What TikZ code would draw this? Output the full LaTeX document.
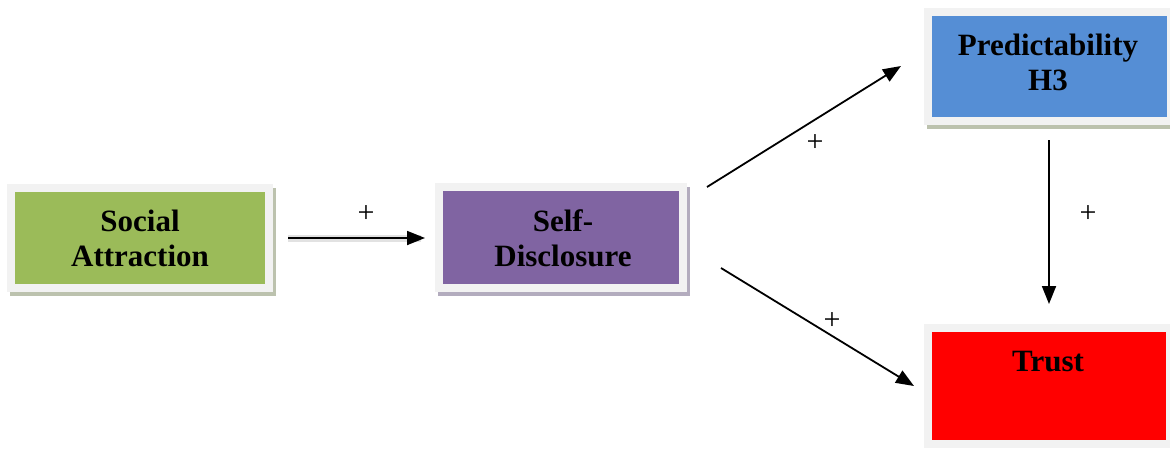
\documentclass[tikz,border=0pt]{standalone}
\usepackage{fontspec}
\setmainfont{Liberation Serif}
\usetikzlibrary{arrows.meta}
\definecolor{outerc}{HTML}{F2F2F2}
\definecolor{sagreen}{HTML}{9BBB59}
\definecolor{sdpurple}{HTML}{8064A2}
\definecolor{prblue}{HTML}{558ED5}
\definecolor{trred}{HTML}{FF0000}
\definecolor{shadg}{HTML}{BCC2AE}
\definecolor{shadp}{HTML}{B3ACBE}
\definecolor{halo}{HTML}{E2E2E2}
\begin{document}
\begin{tikzpicture}[x=1pt,y=-1pt,
  outerbox/.style={fill=outerc,draw=none,inner sep=0pt,anchor=north west},
  innerbox/.style={draw=none,inner sep=0pt},
  lbl/.style={font=\bfseries\fontsize{31}{35}\selectfont,align=center,inner sep=0pt},
  plus/.style={font=\fontsize{30}{30}\selectfont,inner sep=0pt},
  arr/.style={line width=1.8pt,-{Triangle[length=18pt,width=14pt]}}
]
\useasboundingbox (0,0) rectangle (1170,448);
% Social Attraction
\fill[shadg] (10,292) rectangle (276,296);
\fill[shadg] (273,188) rectangle (276,296);
\node[outerbox,minimum width=266pt,minimum height=108pt] (sao) at (7,184) {};
\node[innerbox,fill=sagreen,minimum width=250pt,minimum height=92pt] (sa) at (sao.center) {};
\node[lbl] (sat) at (140,238) {Social\\Attraction};
% Self-Disclosure
\fill[shadp] (438,292) rectangle (690,296);
\fill[shadp] (687,187) rectangle (690,296);
\node[outerbox,minimum width=252pt,minimum height=109pt] (sdo) at (435,183) {};
\node[innerbox,fill=sdpurple,minimum width=236pt,minimum height=93pt] (sd) at (sdo.center) {};
\node[lbl] (sdt) at (563,238) {Self-\\Disclosure};
% Predictability
\fill[shadg] (927,125) rectangle (1170,129);
\node[outerbox,minimum width=246pt,minimum height=117pt] (pro) at (924,8) {};
\node[innerbox,fill=prblue,minimum width=235pt,minimum height=101pt,anchor=north west] (pr) at (932,16) {};
\node[lbl] (prt) at (1048,62) {Predictability\\H3};
% Trust
\node[outerbox,minimum width=246pt,minimum height=124pt] (tro) at (924,324) {};
\node[innerbox,fill=trred,minimum width=234pt,minimum height=108pt,anchor=north west] (tr) at (932,332) {};
\node[lbl,anchor=base] (trt) at (1048,371) {Trust};
% connector end points
\coordinate (a1s) at (288,238);
\coordinate (a1e) at (425,238);
\coordinate (a2s) at (707,187);
\coordinate (a2e) at (901,66);
\coordinate (a3s) at (721,268);
\coordinate (a3e) at (914,386);
\coordinate (a4s) at (1049,140);
\coordinate (a4e) at (1049,304);
% arrows
\draw[halo,line width=7pt] (a1s) -- ([xshift=-4pt]a1e);
\draw[arr] (a1s) -- (a1e);
\draw[arr] (a2s) -- (a2e);
\draw[arr] (a3s) -- (a3e);
\draw[arr] (a4s) -- (a4e);
% plus labels
\node[plus] (p1) at (366,214) {+};
\node[plus] (p2) at (815,143) {+};
\node[plus] (p3) at (832,321) {+};
\node[plus] (p4) at (1088,214) {+};
\end{tikzpicture}
\end{document}
